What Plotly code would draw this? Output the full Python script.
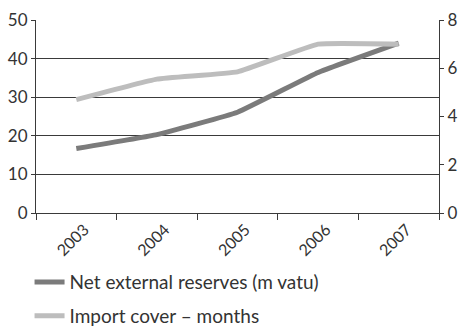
import plotly.graph_objects as go

years = ["2003", "2004", "2005", "2006", "2007"]
reserves = [16.7, 20.3, 26.1, 36.4, 44.0]
import_cover = [4.7, 5.55, 5.85, 7.0, 7.0]

FONT = "Lato"
AX = "#3a3a3a"

fig = go.Figure()
fig.add_trace(go.Scatter(x=years, y=reserves, name="Net external reserves (m vatu)",
                         mode="lines", line=dict(color="#7b7b7b", width=5, shape="spline", smoothing=0.3),
                         yaxis="y", legendgroup="a"))
fig.add_trace(go.Scatter(x=years, y=import_cover, name="Import cover – months",
                         mode="lines", line=dict(color="#bdbdbd", width=5, shape="spline", smoothing=0.3),
                         yaxis="y2", legendgroup="b"))

fig.update_layout(
    width=458, height=329,
    margin=dict(l=36, r=19, t=20, b=116, autoexpand=False),
    paper_bgcolor="white", plot_bgcolor="white",
    font=dict(family=FONT, size=16, color="#333"),
    xaxis=dict(type="category", tickson="boundaries", ticks="outside", ticklen=6,
               tickcolor=AX, showline=True, linecolor=AX, linewidth=1,
               showgrid=False, tickangle=-45, tickfont=dict(size=16), range=[-0.5, 4.5],
               ticklabelshift=8),
    yaxis=dict(range=[0, 50], dtick=10, showgrid=True, gridcolor=AX, gridwidth=1,
               showline=True, linecolor=AX, linewidth=1, ticks="outside", ticklen=4,
               tickcolor=AX, zeroline=False, tickfont=dict(size=17)),
    yaxis2=dict(range=[0, 8], dtick=2, overlaying="y", side="right", showgrid=False,
                showline=True, linecolor=AX, linewidth=1, ticks="outside", ticklen=4,
                tickcolor=AX, zeroline=False, tickfont=dict(size=17)),
    showlegend=True,
    legend=dict(x=-0.016, y=-0.26, xanchor="left", yanchor="top", orientation="v",
                font=dict(size=19), itemwidth=30, tracegroupgap=6, bgcolor="rgba(0,0,0,0)"),
)

fig.write_html("out.html")
